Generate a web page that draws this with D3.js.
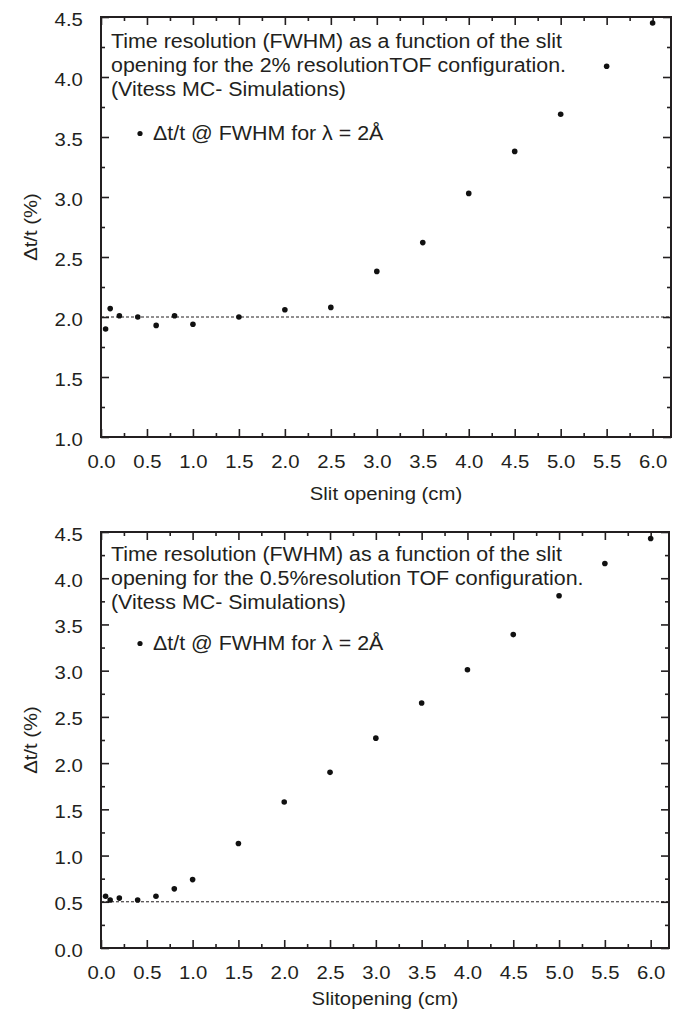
<!DOCTYPE html>
<html>
<head>
<meta charset="utf-8">
<script src="https://cdn.jsdelivr.net/npm/d3@7"></script>
<style>
  html, body { margin: 0; padding: 0; background: #fff; }
  svg { display: block; font-family: "Liberation Sans", Arial, Helvetica, sans-serif; }
</style>
</head>
<body>
<svg id="chart" width="679" height="1017"></svg>
<script>
// Slit openings (cm) simulated for both TOF configurations
const slitOpening = [0.05, 0.1, 0.2, 0.4, 0.6, 0.8, 1.0, 1.5, 2.0, 2.5, 3.0, 3.5, 4.0, 4.5, 5.0, 5.5, 6.0];

// Δt/t (%) at FWHM, λ = 2 Å — 2% resolution configuration
const resolution2pct = [1.90, 2.07, 2.01, 2.00, 1.93, 2.01, 1.94, 2.00, 2.06, 2.08, 2.38, 2.62, 3.03, 3.38, 3.69, 4.09, 4.45];

// Δt/t (%) at FWHM, λ = 2 Å — 0.5% resolution configuration
const resolution05pct = [0.56, 0.52, 0.54, 0.52, 0.56, 0.64, 0.74, 1.13, 1.58, 1.90, 2.27, 2.65, 3.01, 3.39, 3.81, 4.16, 4.43];

// Axis ticks
const xMajorTicks = [0, 0.5, 1, 1.5, 2, 2.5, 3, 3.5, 4, 4.5, 5, 5.5, 6];
const xMinorTicks = [0.25, 0.75, 1.25, 1.75, 2.25, 2.75, 3.25, 3.75, 4.25, 4.75, 5.25, 5.75, 6.25].filter(v => v < 6.2);
const yMajorTicksTop = [1.0, 1.5, 2.0, 2.5, 3.0, 3.5, 4.0, 4.5];
const yMajorTicksBottom = [0.0, 0.5, 1.0, 1.5, 2.0, 2.5, 3.0, 3.5, 4.0, 4.5];

const panels = [
  {
    values: resolution2pct,
    reference: 2.0,
    xDomain: [0, 6.2], yDomain: [1, 4.5],
    left: 101, right: 671, top: 17, bottom: 437,
    yTicks: yMajorTicksTop,
    note: ["Time resolution (FWHM) as a function of the slit",
           "opening for the 2% resolutionTOF configuration.",
           "(Vitess MC- Simulations)"],
    noteY: [47.7, 71.8, 96],
    legendY: 140,
    xTitle: "Slit opening (cm)", xTitleY: 500
  },
  {
    values: resolution05pct,
    reference: 0.5,
    xDomain: [0, 6.2], yDomain: [0, 4.5],
    left: 101, right: 669, top: 532, bottom: 948,
    yTicks: yMajorTicksBottom,
    note: ["Time resolution (FWHM) as a function of the slit",
           "opening for the 0.5%resolution TOF configuration.",
           "(Vitess MC- Simulations)"],
    noteY: [560.5, 584.8, 609],
    legendY: 650,
    xTitle: "Slitopening (cm)", xTitleY: 1005
  }
];

const svg = d3.select("#chart");
const ink = "#231f20";
const stretch = "scale(1.07,1)";
const fmt = d3.format(".1f");

panels.forEach(p => {
  const x = d3.scaleLinear().domain(p.xDomain).range([p.left, p.right]);
  const y = d3.scaleLinear().domain(p.yDomain).range([p.bottom, p.top]);
  const yMinor = d3.range(p.yDomain[0] + 0.25, p.yDomain[1], 0.5);

  const g = svg.append("g");

  // Dashed reference line at the nominal resolution
  g.append("line")
    .attr("x1", x(p.xDomain[0])).attr("x2", x(p.xDomain[1]))
    .attr("y1", y(p.reference)).attr("y2", y(p.reference))
    .attr("stroke", ink).attr("stroke-width", 1)
    .attr("stroke-dasharray", "3,2");

  const styleAxis = sel => {
    sel.select(".domain").remove();
    sel.selectAll(".tick line").attr("stroke", ink).attr("stroke-width", 1.6);
    sel.selectAll("text")
      .attr("fill", ink)
      .attr("font-size", 19)
      .attr("transform", stretch);
  };

  // Bottom axis with labels, ticks pointing inward
  g.append("g").attr("transform", `translate(0,${p.bottom})`)
    .call(d3.axisBottom(x).tickValues(xMajorTicks).tickSize(-8).tickPadding(18).tickFormat(fmt))
    .call(styleAxis);
  g.append("g").attr("transform", `translate(0,${p.bottom})`)
    .call(d3.axisBottom(x).tickValues(xMinorTicks).tickSize(-4).tickFormat(""))
    .call(styleAxis);
  // Top axis, ticks only
  g.append("g").attr("transform", `translate(0,${p.top})`)
    .call(d3.axisTop(x).tickValues(xMajorTicks).tickSize(-8).tickFormat(""))
    .call(styleAxis);
  g.append("g").attr("transform", `translate(0,${p.top})`)
    .call(d3.axisTop(x).tickValues(xMinorTicks).tickSize(-4).tickFormat(""))
    .call(styleAxis);

  // Left axis with labels
  const leftAxis = g.append("g").attr("transform", `translate(${p.left},0)`)
    .call(d3.axisLeft(y).tickValues(p.yTicks).tickSize(-8).tickPadding(17).tickFormat(fmt))
    .call(styleAxis);
  leftAxis.selectAll("text").attr("y", 2);
  g.append("g").attr("transform", `translate(${p.left},0)`)
    .call(d3.axisLeft(y).tickValues(yMinor).tickSize(-4).tickFormat(""))
    .call(styleAxis);
  // Right axis, ticks only
  g.append("g").attr("transform", `translate(${p.right},0)`)
    .call(d3.axisRight(y).tickValues(p.yTicks).tickSize(-8).tickFormat(""))
    .call(styleAxis);
  g.append("g").attr("transform", `translate(${p.right},0)`)
    .call(d3.axisRight(y).tickValues(yMinor).tickSize(-4).tickFormat(""))
    .call(styleAxis);

  // Plot frame
  g.append("rect")
    .attr("x", p.left).attr("y", p.top)
    .attr("width", p.right - p.left).attr("height", p.bottom - p.top)
    .attr("fill", "none").attr("stroke", ink).attr("stroke-width", 2);

  // Data points
  g.append("g").selectAll("circle")
    .data(slitOpening.map((s, i) => [s, p.values[i]]))
    .join("circle")
    .attr("cx", d => x(d[0])).attr("cy", d => y(d[1]))
    .attr("r", 2.8).attr("fill", "#111");

  // Annotation
  p.note.forEach((line, i) => {
    g.append("text")
      .attr("transform", `translate(111,${p.noteY[i]}) ${stretch}`)
      .attr("font-size", 20).attr("fill", ink)
      .text(line);
  });
  g.append("circle")
    .attr("cx", 140).attr("cy", p.legendY - 6.5).attr("r", 2.6).attr("fill", "#111");
  g.append("text")
    .attr("transform", `translate(153,${p.legendY}) ${stretch}`)
    .attr("font-size", 20).attr("fill", ink)
    .text("Δt/t @ FWHM for λ = 2Å");

  // Axis titles
  g.append("text")
    .attr("transform", `translate(${(p.left + p.right) / 2},${p.xTitleY}) ${stretch}`)
    .attr("text-anchor", "middle").attr("font-size", 19).attr("fill", ink)
    .text(p.xTitle);
  g.append("text")
    .attr("transform", `translate(37,${(p.top + p.bottom) / 2}) rotate(-90) ${stretch}`)
    .attr("text-anchor", "middle").attr("font-size", 19).attr("fill", ink)
    .text("Δt/t (%)");
});
</script>
</body>
</html>
